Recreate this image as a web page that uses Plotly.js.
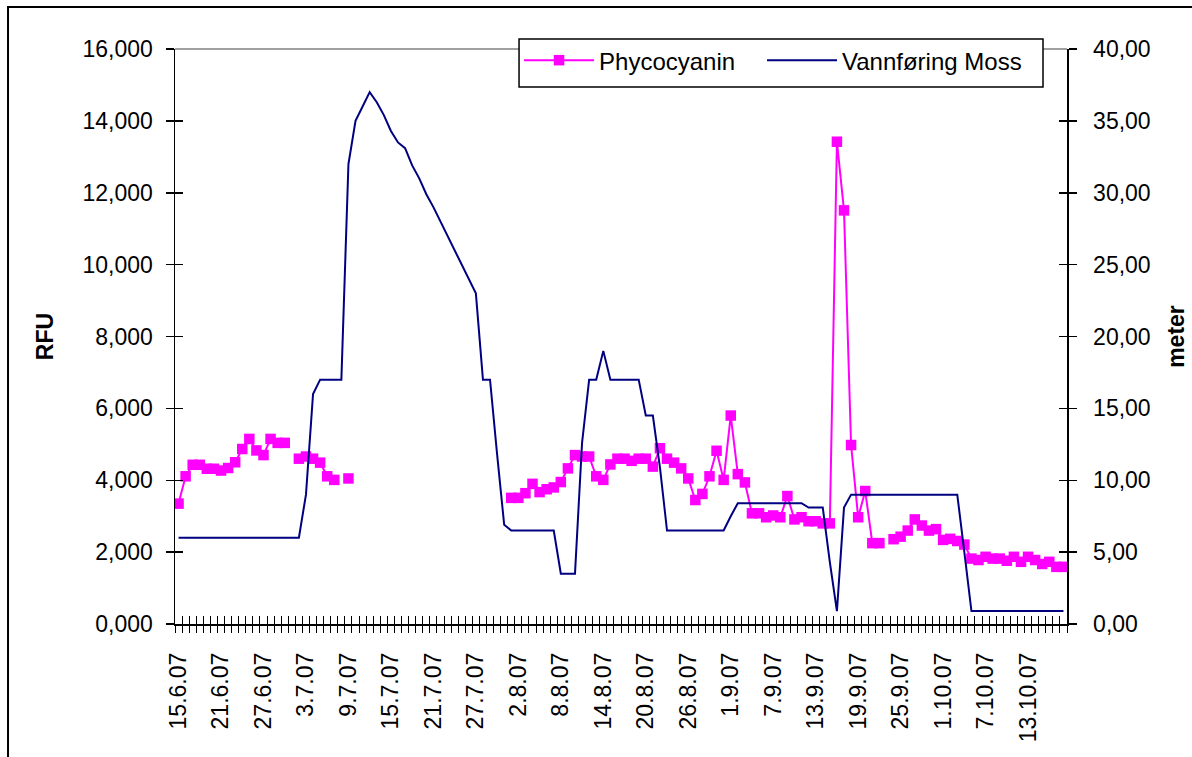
<!DOCTYPE html>
<html>
<head>
<meta charset="utf-8">
<script src="https://cdn.plot.ly/plotly-3.0.1.min.js"></script>
<style>
html,body{margin:0;padding:0;background:#fff;overflow:hidden}
#chart{width:1192px;height:757px}
</style>
</head>
<body>
<div id="chart"></div>
<script>
// Daily categories 15.6.07 .. 18.10.07
const dates = Array.from({length: 126}, (_, i) => {
  const d = new Date(2007, 5, 15 + i);
  return d.getDate() + '.' + (d.getMonth() + 1) + '.07';
});

const tickLabels = ['15.6.07','21.6.07','27.6.07','3.7.07','9.7.07','15.7.07','21.7.07','27.7.07',
  '2.8.07','8.8.07','14.8.07','20.8.07','26.8.07','1.9.07','7.9.07','13.9.07','19.9.07',
  '25.9.07','1.10.07','7.10.07','13.10.07'];

// Phycocyanin (RFU), left axis; null = no measurement
const phycocyanin = [
  3.35, 4.11, 4.43, 4.43, 4.32, 4.32, 4.27, 4.34, 4.50, 4.87,
  5.15, 4.83, 4.70, 5.15, 5.04, 5.04, null, 4.60, 4.66, 4.60,
  4.49, 4.11, 4.01, null, 4.05, null, null, null, null, null,
  null, null, null, null, null, null, null, null, null, null,
  null, null, null, null, null, null, null, 3.51, 3.51, 3.64,
  3.90, 3.67, 3.75, 3.80, 3.95, 4.33, 4.70, 4.66, 4.66, 4.11,
  4.01, 4.44, 4.60, 4.60, 4.54, 4.60, 4.60, 4.38, 4.89, 4.60,
  4.49, 4.33, 4.05, 3.45, 3.62, 4.11, 4.82, 4.01, 5.80, 4.17,
  3.94, 3.08, 3.08, 2.97, 3.02, 2.97, 3.56, 2.91, 2.97, 2.86,
  2.86, 2.80, 2.80, 13.42, 11.51, 4.98, 2.97, 3.70, 2.25, 2.25,
  null, 2.36, 2.43, 2.60, 2.91, 2.74, 2.60, 2.64, 2.34, 2.37,
  2.31, 2.21, 1.82, 1.78, 1.87, 1.82, 1.82, 1.76, 1.87, 1.73,
  1.87, 1.78, 1.67, 1.73, 1.59, 1.59
];

// Vannføring Moss (meter), right axis
const vannforing = [
  6.0, 6.0, 6.0, 6.0, 6.0, 6.0, 6.0, 6.0, 6.0, 6.0,
  6.0, 6.0, 6.0, 6.0, 6.0, 6.0, 6.0, 6.0, 9.0, 16.0,
  17.0, 17.0, 17.0, 17.0, 32.0, 35.0, 36.0, 37.0, 36.3, 35.4,
  34.3, 33.5, 33.1, 31.9, 31.0, 29.9, 29.0, 28.0, 26.9, 26.0,
  25.0, 23.9, 23.0, 17.0, 17.0, 11.8, 6.9, 6.5, 6.5, 6.5,
  6.5, 6.5, 6.5, 6.5, 3.5, 3.5, 3.5, 12.6, 17.0, 17.0,
  19.0, 17.0, 17.0, 17.0, 17.0, 17.0, 14.5, 14.5, 10.9, 6.5,
  6.5, 6.5, 6.5, 6.5, 6.5, 6.5, 6.5, 6.5, 7.5, 8.4,
  8.4, 8.4, 8.4, 8.4, 8.4, 8.4, 8.4, 8.4, 8.4, 8.1,
  8.1, 8.1, 4.3, 0.9, 8.1, 9.0, 9.0, 9.0, 9.0, 9.0,
  9.0, 9.0, 9.0, 9.0, 9.0, 9.0, 9.0, 9.0, 9.0, 9.0,
  9.0, 5.0, 0.9, 0.9, 0.9, 0.9, 0.9, 0.9, 0.9, 0.9,
  0.9, 0.9, 0.9, 0.9, 0.9, 0.9
];

const FONT = 'Liberation Sans, Arial, Helvetica, sans-serif';
const N = dates.length;
const xr = [-0.5, N - 0.5];

const traces = [
  {
    name: 'Phycocyanin', x: dates, y: phycocyanin, xaxis: 'x', yaxis: 'y', legend: 'legend',
    type: 'scatter', mode: 'lines+markers', connectgaps: false,
    line: {color: '#FF00FF', width: 2},
    marker: {symbol: 'square', size: 10.5, color: '#FF00FF'}
  },
  {
    name: 'Vannføring Moss', x: dates, y: vannforing, xaxis: 'x', yaxis: 'y2', legend: 'legend2',
    type: 'scatter', mode: 'lines',
    line: {color: '#000080', width: 2}
  },
  // carriers for the tick-mark axes (ticks crossing the axis lines)
  {x: [null], y: [null], xaxis: 'x2', yaxis: 'y3', showlegend: false, hoverinfo: 'skip', type: 'scatter', mode: 'lines'},
  {x: [null], y: [null], xaxis: 'x3', yaxis: 'y4', showlegend: false, hoverinfo: 'skip', type: 'scatter', mode: 'lines'}
];

const tickAxisBase = {showticklabels: false, showline: false, showgrid: false, zeroline: false, fixedrange: true};
const legendBase = {
  orientation: 'h', xanchor: 'left', y: 1.019, yanchor: 'top',
  bgcolor: 'rgba(0,0,0,0)', borderwidth: 0,
  font: {family: FONT, size: 24, color: '#000'},
  itemwidth: 70
};

const layout = {
  width: 1192, height: 757,
  margin: {l: 175, r: 125, t: 49, b: 133, pad: 0},
  paper_bgcolor: '#fff', plot_bgcolor: '#fff',
  separators: ',.',
  font: {family: FONT, size: 23, color: '#000'},
  showlegend: true,
  legend: Object.assign({}, legendBase, {x: 0.3857}),
  legend2: Object.assign({}, legendBase, {x: 0.6581}),
  xaxis: {
    type: 'category', range: xr, autorange: false,
    tickmode: 'array', tickvals: tickLabels, ticktext: tickLabels,
    tickangle: -90, ticks: 'outside', ticklen: 8, tickcolor: 'rgba(0,0,0,0)',
    ticklabelstandoff: 10,
    tickfont: {family: FONT, size: 23, color: '#000'},
    showline: true, linecolor: '#000', linewidth: 1.5,
    showgrid: false, zeroline: false, fixedrange: true
  },
  yaxis: {
    range: [0, 16], autorange: false, tickmode: 'linear', tick0: 0, dtick: 2,
    tickformat: '.3f', ticks: 'outside', ticklen: 8, tickwidth: 1.5, tickcolor: '#000',
    ticklabelstandoff: 8,
    tickfont: {family: FONT, size: 23, color: '#000'},
    showline: true, linecolor: '#000', linewidth: 1.5,
    showgrid: false, zeroline: false, fixedrange: true,
    title: {text: '<b>RFU</b>', font: {family: FONT, size: 23, color: '#000'}, standoff: 22}
  },
  yaxis2: {
    overlaying: 'y', side: 'right', anchor: 'x',
    range: [0, 40], autorange: false, tickmode: 'linear', tick0: 0, dtick: 5,
    tickformat: '.2f', ticks: 'outside', ticklen: 8, tickwidth: 1.5, tickcolor: '#000',
    ticklabelstandoff: 12,
    tickfont: {family: FONT, size: 23, color: '#000'},
    showline: true, linecolor: '#000', linewidth: 1.5,
    showgrid: false, zeroline: false, fixedrange: true,
    title: {text: '<b>meter</b>', font: {family: FONT, size: 23, color: '#000'}, standoff: 18}
  },
  xaxis2: Object.assign({}, tickAxisBase, {
    overlaying: 'x', anchor: 'y', side: 'bottom', type: 'linear', range: xr, autorange: false,
    tickmode: 'linear', tick0: -0.5, dtick: 1, ticks: 'outside', ticklen: 8, tickwidth: 1, tickcolor: '#000'
  }),
  xaxis3: Object.assign({}, tickAxisBase, {
    overlaying: 'x', anchor: 'y', side: 'bottom', type: 'linear', range: xr, autorange: false,
    tickmode: 'linear', tick0: -0.5, dtick: 1, ticks: 'inside', ticklen: 8, tickwidth: 1, tickcolor: '#000'
  }),
  yaxis3: Object.assign({}, tickAxisBase, {
    overlaying: 'y', anchor: 'x', side: 'left', range: [0, 16], autorange: false,
    tickmode: 'linear', tick0: 0, dtick: 2, ticks: 'inside', ticklen: 8, tickwidth: 1.5, tickcolor: '#000'
  }),
  yaxis4: Object.assign({}, tickAxisBase, {
    overlaying: 'y', anchor: 'x', side: 'right', range: [0, 40], autorange: false,
    tickmode: 'linear', tick0: 0, dtick: 5, ticks: 'inside', ticklen: 8, tickwidth: 1.5, tickcolor: '#000'
  }),
  shapes: [
    {type: 'line', xref: 'paper', yref: 'paper', x0: 0, x1: 1, y0: 1, y1: 1,
     line: {color: '#808080', width: 1.5}, layer: 'below'},
    // legend box
    {type: 'rect', xref: 'paper', yref: 'paper', x0: 0.3857, x1: 0.9731, y0: 0.9339, y1: 1.0174,
     line: {color: '#000', width: 1.5}, fillcolor: '#fff', layer: 'above'},
    // outer chart frame
    {type: 'rect', xref: 'paper', yref: 'paper', x0: -0.1872, x1: 1.2, y0: -0.3, y1: 1.073,
     line: {color: '#000', width: 2}, fillcolor: 'rgba(0,0,0,0)'}
  ]
};

Plotly.newPlot('chart', traces, layout, {displayModeBar: false, staticPlot: true});
</script>
</body>
</html>
